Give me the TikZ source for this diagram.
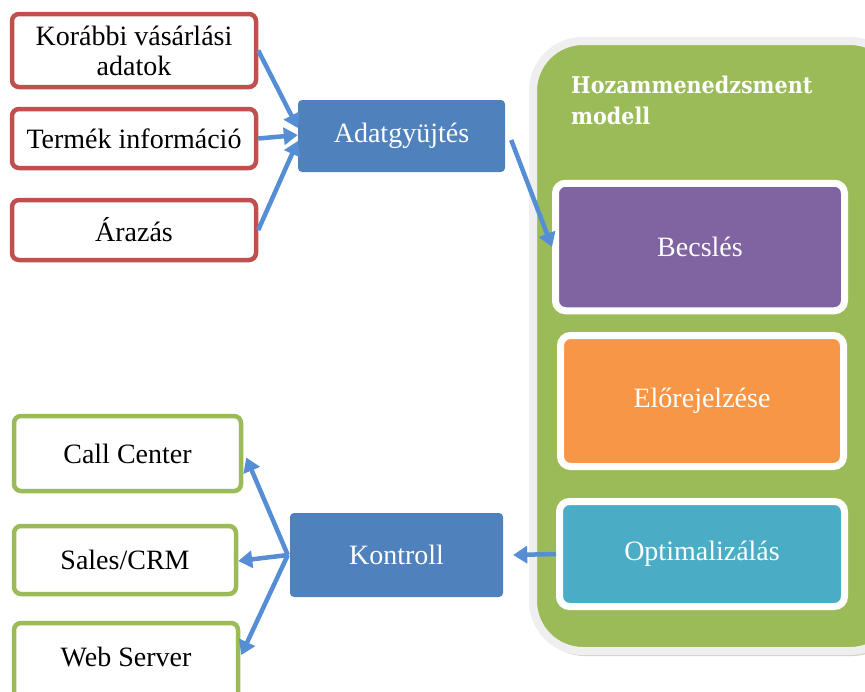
\documentclass[tikz,border=0pt]{standalone}
\usepackage{fontspec}
\setmainfont{Liberation Serif}
\newfontfamily\headfont{DejaVu Serif Condensed}
\usetikzlibrary{arrows.meta,shadows}
\definecolor{redc}{HTML}{C0504D}
\definecolor{greenc}{HTML}{9BBB59}
\definecolor{bluec}{HTML}{4F81BD}
\definecolor{purplec}{HTML}{8064A2}
\definecolor{orangec}{HTML}{F79646}
\definecolor{tealc}{HTML}{4BACC6}
\definecolor{frameg}{HTML}{EFEFEF}
\definecolor{arrowc}{HTML}{558ED5}
\begin{document}
\begin{tikzpicture}[x=1pt,y=-1pt,
  base/.style={font=\fontsize{28}{30}\selectfont, align=center, rounded corners=7pt, inner sep=0pt},
  redbox/.style={base, draw=redc, line width=4.5pt, fill=white},
  greenbox/.style={base, draw=greenc, line width=4.5pt, fill=white},
  bluebox/.style={base, fill=bluec, text=white, rounded corners=4pt},
  innerbox/.style={base, draw=white, line width=7pt, text=white, rounded corners=10pt,
    drop shadow={opacity=0.3, shadow xshift=2pt, shadow yshift=-3pt, fill=black!70!greenc}},
  modelframe/.style={fill=greenc, draw=frameg, line width=8pt, rounded corners=50pt, inner sep=0pt,
    drop shadow={opacity=0.35, shadow xshift=2pt, shadow yshift=-5pt, fill=black!50}},
  conn/.style={draw=arrowc, line width=4.5pt, -{Triangle[length=14pt,width=17pt]}}
]
\useasboundingbox (0,0) rectangle (865,691);
\fill[white] (0,0) rectangle (865,691);

% left input boxes
\node[redbox, minimum width=244, minimum height=73] (kor) at (134,50.5) {Korábbi vásárlási\\adatok};
\node[redbox, minimum width=244, minimum height=59] (term) at (134,138.5) {Termék információ};
\node[redbox, minimum width=244, minimum height=60] (araz) at (134,230) {Árazás};

\node[bluebox, minimum width=207, minimum height=72] (adat) at (401.5,136) {Adatgyüjtés};

% model frame
\node[modelframe, minimum width=367, minimum height=610] (model) at (716.5,346) {};
\node[anchor=north west, inner sep=0pt, align=left, text=white,
  font=\headfont\bfseries\fontsize{23}{31}\selectfont] (title) at (571,76) {Hozammenedzsment\\modell};

\node[innerbox, fill=purplec, minimum width=289, minimum height=127.5] (becs) at (700,247) {Becslés};
\node[innerbox, fill=orangec, minimum width=283, minimum height=131] (elo) at (702,401) {Előrejelzése};
\node[innerbox, fill=tealc, minimum width=285, minimum height=105] (opt) at (702,554) {Optimalizálás};

\node[bluebox, minimum width=213, minimum height=84] (kont) at (396.5,555) {Kontroll};

% output boxes
\node[greenbox, minimum width=227, minimum height=75] (call) at (127.5,453.5) {Call Center};
\node[greenbox, minimum width=222, minimum height=68] (sales) at (125,560) {Sales/CRM};
\node[greenbox, minimum width=224, minimum height=86, text height=10pt, text depth=10pt] (web) at (126,666) {Web Server};

% connectors
\draw[conn] (kor.east) -- ([yshift=8pt]adat.west);
\draw[conn] (term.east) -- ([yshift=1pt]adat.west);
\draw[conn] (araz.east) -- ([yshift=-5pt]adat.west);
\draw[conn] ([xshift=6pt,yshift=-4pt]adat.east) -- (becs.west);
\draw[conn] (opt.west) -- ([xshift=10pt]kont.east);
\draw[conn] ([xshift=-2pt]kont.west) -- ([xshift=3pt,yshift=-4pt]call.east);
\draw[conn] ([xshift=-2pt]kont.west) -- ([yshift=-1pt]sales.east);
\draw[conn] ([xshift=-2pt]kont.west) -- ([xshift=1pt,yshift=11pt]web.east);
\end{tikzpicture}
\end{document}
